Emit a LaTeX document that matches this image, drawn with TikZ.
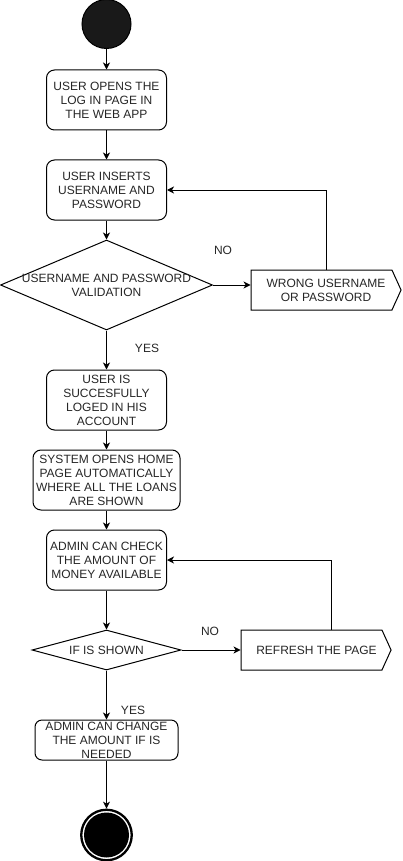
\documentclass[tikz,border=0pt]{standalone}
\usepackage{fontspec}
\setmainfont{Liberation Sans}
\usetikzlibrary{arrows.meta,shapes.geometric,shapes.symbols}

\begin{document}
\begin{tikzpicture}[x=1pt,y=-1pt]
\tikzset{every node/.style={font=\fontsize{12}{14}\selectfont,align=center,text=black!85}}
\tikzset{activity/.style={draw,rounded corners=8pt,line width=1pt,inner sep=0pt,minimum width=120pt,minimum height=60pt}}
\tikzset{decision/.style={draw,diamond,line width=1pt,inner sep=0pt}}
\tikzset{flag/.style={draw,signal,signal to=east,signal pointer angle=131,line width=1pt,inner sep=0pt,minimum height=40pt}}
\tikzset{flow/.style={-{Stealth[length=7pt,width=7pt,inset=2pt]},line width=1pt}}

\useasboundingbox (0,0) rectangle (402,861);

\node[circle,draw,fill=black!90,line width=1pt,inner sep=0pt,minimum size=49pt] (start) at (106.5,24) {};
\node[activity] (open) at (106.5,100) {USER OPENS THE\\LOG IN PAGE IN\\THE WEB APP};
\node[activity] (insert) at (106.5,190) {USER INSERTS\\USERNAME AND\\PASSWORD};
\node[decision,minimum width=212pt,minimum height=90pt] (valid) at (106.5,285) {};
\node (validtext) at (valid) {USERNAME AND PASSWORD\\VALIDATION};
\node[flag,minimum width=150pt] (wrong) at (321.5,290) {};
\node (wrongtext) at (326,290) {WRONG USERNAME\\OR PASSWORD};
\node[activity] (logged) at (106.5,400) {USER IS\\SUCCESFULLY\\LOGED IN HIS\\ACCOUNT};
\node[activity,minimum width=147pt] (home) at (106.5,480) {SYSTEM OPENS HOME\\PAGE AUTOMATICALLY\\WHERE ALL THE LOANS\\ARE SHOWN};
\node[activity] (check) at (106.5,560) {ADMIN CAN CHECK\\THE AMOUNT OF\\MONEY AVAILABLE};
\node[decision,minimum width=149pt,minimum height=40pt] (shown) at (106.5,650) {};
\node (showntext) at (shown) {IF IS SHOWN};
\node[flag,minimum width=150pt] (refresh) at (311.5,650) {};
\node (refreshtext) at (316.5,650) {REFRESH THE PAGE};
\node[activity,rounded corners=7pt,minimum width=143pt,minimum height=40pt] (change) at (106.5,740) {ADMIN CAN CHANGE\\THE AMOUNT IF IS\\NEEDED};
\node[circle,draw,line width=2.3pt,inner sep=0pt,minimum size=50.5pt] (end) at (106.5,835) {};
\node[circle,fill=black,inner sep=0pt,minimum size=45pt] (enddot) at (end) {};

\node (no1) at (223,250) {NO};
\node (yes1) at (147,348) {YES};
\node (no2) at (210,631) {NO};
\node (yes2) at (133,710) {YES};

\draw[flow] (start) -- (open);
\draw[flow] (open) -- (insert);
\draw[flow] (insert) -- (valid);
\draw[flow] (valid.east) -- (valid.east -| wrong.west);
\draw[flow] ([xshift=4.5pt]wrong.north) |- (insert.east);
\draw[flow] (valid) -- (logged);
\draw[flow] (logged) -- (home);
\draw[flow] (home) -- (check);
\draw[flow] (check) -- (shown);
\draw[flow] (shown) -- (refresh);
\draw[flow] ([xshift=19.5pt]refresh.north) |- (check.east);
\draw[flow] (shown) -- (change);
\draw[flow] (change) -- (end);

\end{tikzpicture}
\end{document}
